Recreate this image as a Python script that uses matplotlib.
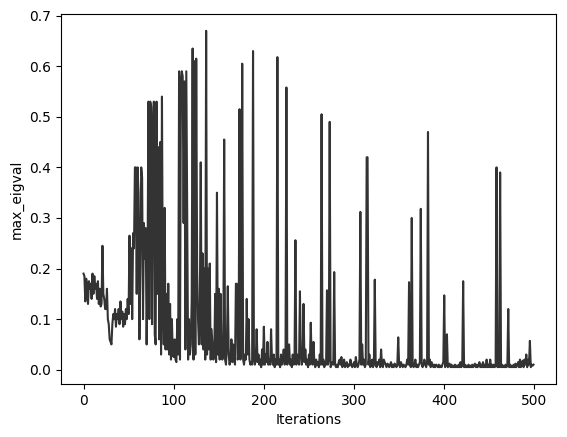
import matplotlib
matplotlib.use("Agg")
import matplotlib.pyplot as plt

# max eigenvalue per iteration
max_eigval = [
    0.19, 0.185, 0.135, 0.18, 0.165, 0.13, 0.175, 0.16, 0.17, 0.14,
    0.19, 0.15, 0.185, 0.16, 0.17, 0.14, 0.175, 0.13, 0.16, 0.125,
    0.13, 0.245, 0.15, 0.14, 0.12, 0.12, 0.16, 0.10, 0.09, 0.06,
    0.055, 0.05, 0.09, 0.11, 0.10, 0.12, 0.085, 0.11, 0.10, 0.12,
    0.09, 0.135, 0.10, 0.115, 0.085, 0.11, 0.09, 0.12, 0.10, 0.14,
    0.11, 0.265, 0.13, 0.24, 0.10, 0.27, 0.24, 0.40, 0.40, 0.15,
    0.40, 0.35, 0.06, 0.20, 0.40, 0.38, 0.10, 0.29, 0.22, 0.28,
    0.05, 0.20, 0.53, 0.10, 0.53, 0.52, 0.09, 0.48, 0.53, 0.07,
    0.05, 0.53, 0.15, 0.44, 0.06, 0.45, 0.03, 0.54, 0.13, 0.05,
    0.32, 0.04, 0.15, 0.04, 0.17, 0.03, 0.13, 0.02, 0.10, 0.03,
    0.025, 0.06, 0.02, 0.015, 0.10, 0.03, 0.59, 0.02, 0.57, 0.59,
    0.58, 0.29, 0.57, 0.04, 0.59, 0.30, 0.02, 0.10, 0.03, 0.05,
    0.14, 0.635, 0.02, 0.61, 0.03, 0.615, 0.20, 0.10, 0.05, 0.12,
    0.41, 0.05, 0.23, 0.04, 0.20, 0.02, 0.67, 0.03, 0.20, 0.04,
    0.21, 0.02, 0.08, 0.05, 0.02, 0.03, 0.15, 0.015, 0.35, 0.03,
    0.16, 0.02, 0.15, 0.04, 0.02, 0.03, 0.455, 0.02, 0.01, 0.05,
    0.165, 0.03, 0.01, 0.02, 0.06, 0.015, 0.05, 0.02, 0.01, 0.17,
    0.17, 0.02, 0.03, 0.515, 0.02, 0.05, 0.605, 0.02, 0.01, 0.03,
    0.02, 0.14, 0.03, 0.10, 0.02, 0.01, 0.015, 0.01, 0.63, 0.02,
    0.01, 0.02, 0.08, 0.015, 0.03, 0.01, 0.02, 0.005, 0.04, 0.01,
    0.085, 0.01, 0.03, 0.015, 0.055, 0.01, 0.02, 0.01, 0.08, 0.02,
    0.01, 0.03, 0.005, 0.02, 0.01, 0.618, 0.01, 0.02, 0.005, 0.03,
    0.01, 0.02, 0.04, 0.01, 0.015, 0.558, 0.01, 0.03, 0.05, 0.01,
    0.02, 0.005, 0.03, 0.01, 0.02, 0.256, 0.01, 0.03, 0.02, 0.01,
    0.155, 0.03, 0.01, 0.02, 0.13, 0.015, 0.04, 0.01, 0.02, 0.005,
    0.03, 0.01, 0.093, 0.02, 0.01, 0.055, 0.015, 0.005, 0.02, 0.01,
    0.015, 0.005, 0.03, 0.01, 0.505, 0.01, 0.02, 0.005, 0.015, 0.01,
    0.157, 0.01, 0.02, 0.49, 0.005, 0.01, 0.015, 0.01, 0.193, 0.01,
    0.005, 0.01, 0.005, 0.015, 0.02, 0.01, 0.025, 0.005, 0.01, 0.02,
    0.005, 0.01, 0.015, 0.005, 0.01, 0.008, 0.02, 0.01, 0.005, 0.01,
    0.015, 0.005, 0.025, 0.01, 0.005, 0.01, 0.02, 0.312, 0.01, 0.05,
    0.01, 0.02, 0.005, 0.01, 0.42, 0.42, 0.01, 0.03, 0.005, 0.01,
    0.02, 0.005, 0.01, 0.178, 0.01, 0.005, 0.015, 0.01, 0.02, 0.005,
    0.04, 0.01, 0.005, 0.02, 0.015, 0.01, 0.005, 0.012, 0.01, 0.005,
    0.01, 0.015, 0.005, 0.01, 0.005, 0.012, 0.01, 0.005, 0.01, 0.064,
    0.01, 0.005, 0.015, 0.01, 0.005, 0.01, 0.008, 0.005, 0.01, 0.02,
    0.01, 0.173, 0.01, 0.005, 0.30, 0.01, 0.005, 0.01, 0.02, 0.005,
    0.01, 0.005, 0.01, 0.015, 0.318, 0.01, 0.005, 0.01, 0.02, 0.01,
    0.005, 0.015, 0.47, 0.01, 0.02, 0.005, 0.015, 0.01, 0.005, 0.01,
    0.005, 0.01, 0.008, 0.005, 0.01, 0.005, 0.008, 0.005, 0.01, 0.015,
    0.147, 0.005, 0.01, 0.07, 0.005, 0.01, 0.012, 0.005, 0.01, 0.005,
    0.008, 0.005, 0.01, 0.005, 0.008, 0.005, 0.01, 0.005, 0.015, 0.005,
    0.01, 0.175, 0.005, 0.01, 0.005, 0.008, 0.005, 0.01, 0.005, 0.008,
    0.005, 0.01, 0.005, 0.008, 0.012, 0.005, 0.01, 0.005, 0.008, 0.015,
    0.005, 0.01, 0.005, 0.015, 0.005, 0.01, 0.005, 0.02, 0.005, 0.01,
    0.005, 0.02, 0.005, 0.01, 0.005, 0.01, 0.005, 0.008, 0.40, 0.005,
    0.01, 0.005, 0.39, 0.005, 0.01, 0.005, 0.008, 0.005, 0.01, 0.005,
    0.008, 0.12, 0.005, 0.01, 0.005, 0.008, 0.005, 0.01, 0.005, 0.012,
    0.005, 0.01, 0.015, 0.005, 0.02, 0.005, 0.01, 0.018, 0.005, 0.02,
    0.01, 0.03, 0.005, 0.02, 0.01, 0.057, 0.005, 0.01, 0.008, 0.01,
]
iterations = list(range(len(max_eigval)))

fig = plt.figure(figsize=(5.67, 4.37), dpi=100)
ax = fig.add_axes([61 / 567, 53 / 437, 495 / 567, 370 / 437])
ax.plot(iterations, max_eigval, color="#333333", linewidth=1.5)
ax.set_xlabel("Iterations")
ax.set_ylabel("max_eigval")

fig.savefig("out.png", dpi=100)
